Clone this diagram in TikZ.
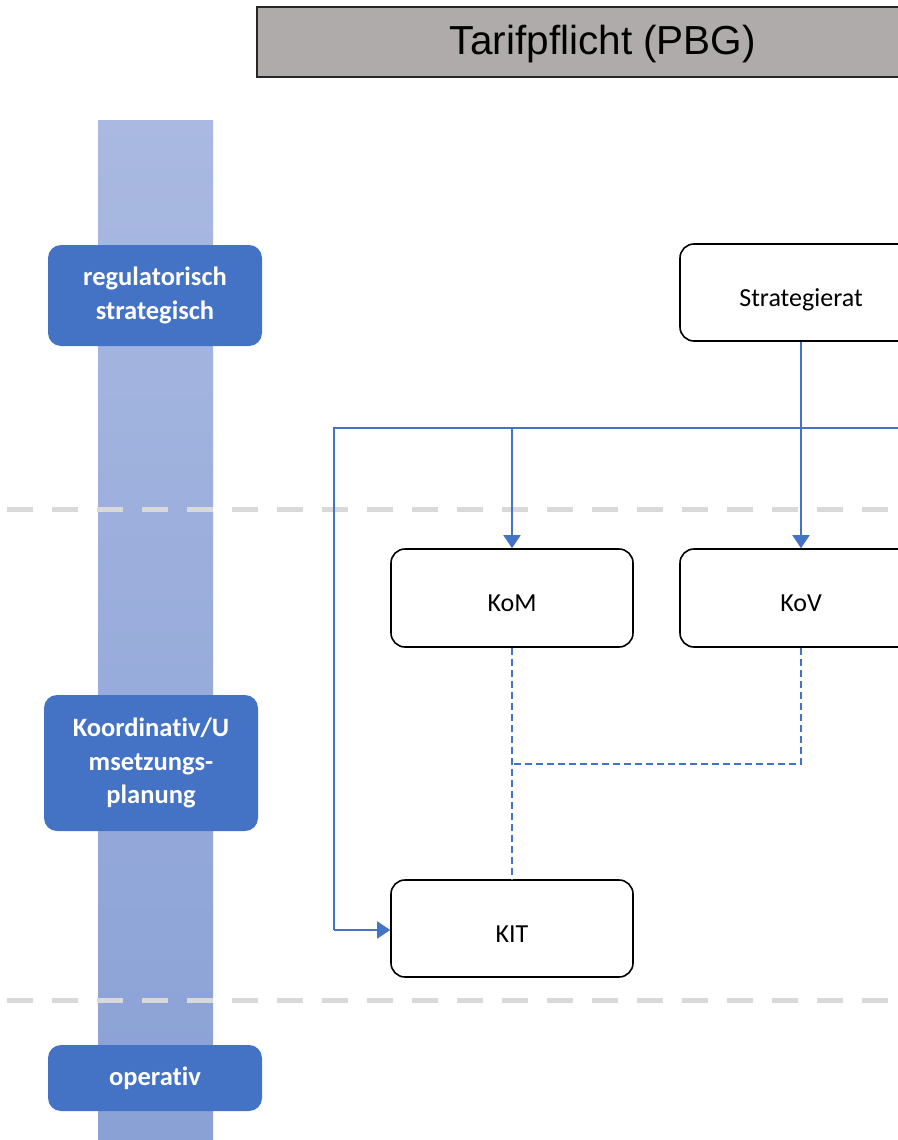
\documentclass[tikz,border=0pt]{standalone}
\usepackage{fontspec}
\setmainfont[Ligatures=NoCommon]{Carlito}
\newfontfamily\titlefont{Liberation Sans}
\usetikzlibrary{arrows.meta}
\definecolor{lineblue}{HTML}{4472C4}
\definecolor{lblfill}{HTML}{4472C4}
\definecolor{bandtop}{HTML}{A9B9E1}
\definecolor{bandbot}{HTML}{8AA1D6}
\definecolor{titlegray}{HTML}{AFABAB}
\definecolor{sepgray}{HTML}{D9D9D9}
\tikzset{
  orgbox/.style={draw=black, line width=1.6pt, rounded corners=14pt, fill=white,
    minimum width=242pt, minimum height=98pt, inner sep=0pt,
    text height=27pt, text depth=0pt,
    font=\fontsize{26}{30}\selectfont},
  lvl/.style={fill=lblfill, rounded corners=13pt, text=white, align=center,
    minimum width=214pt, inner sep=0pt,
    font=\bfseries\fontsize{26.5}{33.5}\selectfont},
  conn/.style={draw=lineblue, line width=1.8pt},
  arr/.style={conn, -{Triangle[length=13pt,width=17pt]}},
  dconn/.style={draw=lineblue, line width=1.8pt, dash pattern=on 7pt off 4pt},
  sep/.style={draw=sepgray, line width=5pt, dash pattern=on 26pt off 19pt}
}
\begin{document}
\begin{tikzpicture}[x=1pt,y=-1pt]
\useasboundingbox (0,0) rectangle (897,1140);
% band
\shade[top color=bandtop, bottom color=bandbot] (98,120) rectangle (213,1140);
% separators
\coordinate (s1a) at (7,509); \coordinate (s1b) at (900,509);
\coordinate (s2a) at (7,1000); \coordinate (s2b) at (900,1000);
\draw[sep] (s1a) -- (s1b);
\draw[sep] (s2a) -- (s2b);
% title
\node[draw=black!85, line width=1.6pt, fill=titlegray, minimum width=692pt, minimum height=70pt,
  inner sep=0pt, text height=26pt, text depth=0pt,
  font=\titlefont\fontsize{40.5}{44}\selectfont] (title) at (603,42) {Tarifpflicht (PBG)};
% level labels
\node[lvl, minimum height=101pt] (l1) at (155,295.5) {regulatorisch\\strategisch};
\node[lvl, minimum height=136pt] (l2) at (151,763) {Koordinativ/U\\msetzungs-\\planung};
\node[lvl, minimum height=66pt] (l3) at (155,1078) {operativ};
% boxes
\node[orgbox, minimum height=97pt] (sr) at (801,292.5) {Strategierat};
\node[orgbox] (kom) at (512,598) {KoM};
\node[orgbox] (kov) at (801,598) {KoV};
\node[orgbox, minimum height=97pt] (kit) at (512,928.5) {KIT};
% connectors
\coordinate (hl) at (334,428);
\coordinate (hr) at (905,428);
\coordinate (hm) at (512,428);
\coordinate (hb) at (334,930);
\coordinate (dj) at (512,764);
\draw[conn] (hr) -- (hl) -- (hb);
\draw[arr] (hb) -- (kit.west |- hb);
\draw[arr] (hm) -- (kom.north);
\draw[arr] (sr.south) -- (kov.north);
\draw[dconn] (kom.south) -- (kit.north);
\draw[dconn] (kov.south) |- (dj);
\end{tikzpicture}
\end{document}
